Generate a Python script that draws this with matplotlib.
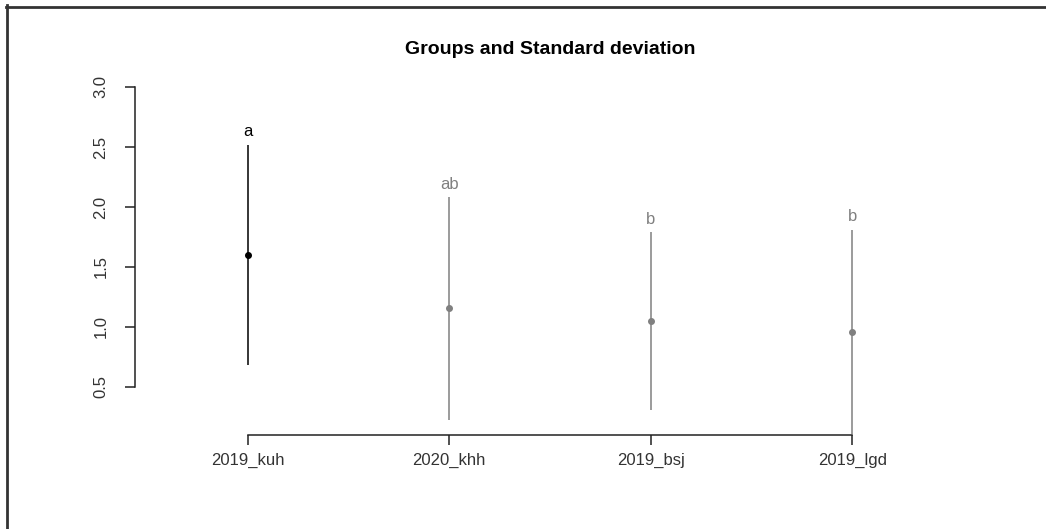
import matplotlib.pyplot as plt
from matplotlib.lines import Line2D

plt.rcParams['font.family'] = ['Liberation Sans', 'DejaVu Sans']

groups = ['2019_kuh', '2020_khh', '2019_bsj', '2019_lgd']
means = [1.60, 1.155, 1.05, 0.96]
sds = [0.92, 0.927, 0.74, 0.85]
letters = ['a', 'ab', 'b', 'b']
colors = ['black', 'gray', 'gray', 'gray']

fig = plt.figure(figsize=(10.46, 5.29), dpi=100)
ax = fig.add_axes([0.129, 0.1777, 0.7936, 0.6806])

xs = range(1, len(groups) + 1)
for x, m, s, lab, col in zip(xs, means, sds, letters, colors):
    ax.plot([x, x], [m - s, m + s], color=col, lw=1.1, solid_capstyle='butt')
    ax.plot(x, m, 'o', color=col, ms=4)
    ax.annotate(lab, (x, m + s), xytext=(0, 4), textcoords='offset points',
                ha='center', va='bottom', fontsize=12, color=col)

ax.set_xlim(0.44, 4.56)
ax.set_ylim(0.1, 3.1)
ax.set_xticks(list(xs))
ax.set_xticklabels(groups)
ax.set_yticks([0.5, 1.0, 1.5, 2.0, 2.5, 3.0])
ax.set_yticklabels(['0.5', '1.0', '1.5', '2.0', '2.5', '3.0'], rotation=90, va='center')

for side in ['top', 'right']:
    ax.spines[side].set_visible(False)
ax.spines['left'].set_bounds(0.5, 3.0)
ax.spines['bottom'].set_bounds(1, 4)
for side in ['left', 'bottom']:
    ax.spines[side].set_color('#222222')
    ax.spines[side].set_linewidth(1.1)
ax.tick_params(axis='both', length=7, width=1.1, color='#222222', labelsize=12,
               labelcolor='#333333')
ax.tick_params(axis='x', pad=6)
ax.tick_params(axis='y', pad=12)

ax.set_title('Groups and Standard deviation', fontsize=14, fontweight='bold', pad=15)

# thin frame along the top and left edges
fig.add_artist(Line2D([6.5 / 1046, 6.5 / 1046], [0, 1 - 5 / 529], transform=fig.transFigure,
                      color='#333333', lw=2))
fig.add_artist(Line2D([5.5 / 1046, 1], [1 - 6.5 / 529, 1 - 6.5 / 529], transform=fig.transFigure,
                      color='#333333', lw=2))

fig.savefig('out.png', dpi=100)
